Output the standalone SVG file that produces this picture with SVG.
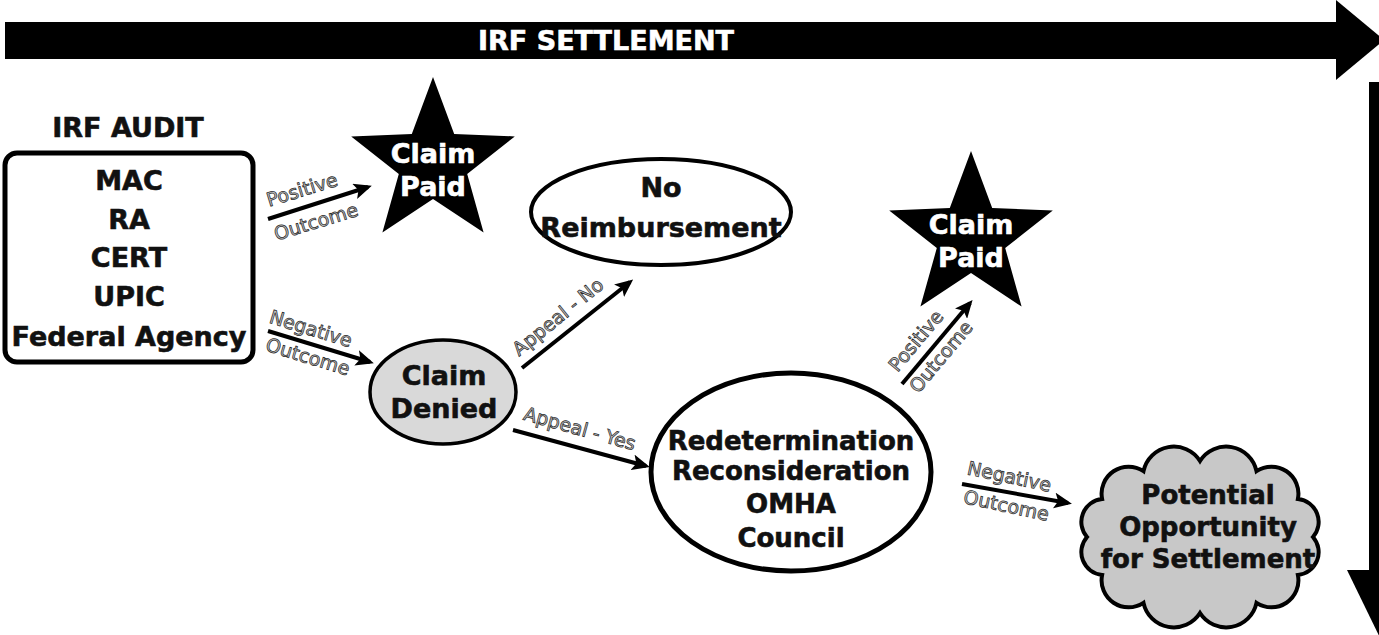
<svg xmlns="http://www.w3.org/2000/svg" width="1379" height="635" viewBox="0 0 1379 635">
<defs>
<style>
.t{font-family:"DejaVu Sans","Liberation Sans",sans-serif;font-weight:bold;font-size:27px;text-anchor:middle;fill:#111;stroke:#111;stroke-width:0.6}
.w{fill:#fff;stroke:#fff}
.s26{font-size:26px}
.lbl{font-family:"DejaVu Sans","Liberation Sans",sans-serif;font-size:19px;text-anchor:middle;fill:#c4c4c4;stroke:#2a2a2a;stroke-width:0.75}
.con{stroke:#000;stroke-width:4;fill:none;marker-end:url(#ah)}
</style>
<marker id="ah" markerUnits="userSpaceOnUse" markerWidth="18" markerHeight="16" refX="14" refY="8" orient="auto">
<path d="M0,0 L18,8 L0,16 L4,8 Z" fill="#000"/>
</marker>
<path id="star" d="M0,-86 L21.2,-29.1 L81.8,-26.6 L34.2,11.1 L50.6,69.6 L0,36 L-50.6,69.6 L-34.2,11.1 L-81.8,-26.6 L-21.2,-29.1 Z"/>
</defs>
<rect width="1379" height="635" fill="#fff"/>

<g id="settlement-bar">
<rect x="5" y="22" width="1335" height="37" fill="#000"/>
<polygon points="1336,0 1384,40 1336,80" fill="#000"/>
<text class="t w" x="606" y="50">IRF SETTLEMENT</text>
</g>

<g id="vertical-bar">
<rect x="1369" y="82" width="30" height="490" fill="#000"/>
<polygon points="1347,570 1423,570 1385,648" fill="#000"/>
</g>

<g id="connectors">
<line class="con" x1="268" y1="219" x2="368" y2="187"/>
<line class="con" x1="268" y1="331" x2="370" y2="362"/>
<line class="con" x1="522" y1="368" x2="630" y2="282"/>
<line class="con" x1="513" y1="430" x2="646" y2="466"/>
<line class="con" x1="902" y1="384" x2="970" y2="303"/>
<line class="con" x1="962" y1="484" x2="1068" y2="503"/>
<text class="lbl" transform="translate(304,196) rotate(-17)">Positive</text>
<text class="lbl" transform="translate(318,228) rotate(-17)">Outcome</text>
<text class="lbl" transform="translate(309,335) rotate(17)">Negative</text>
<text class="lbl" transform="translate(306,363) rotate(17)">Outcome</text>
<text class="lbl" transform="translate(562,322) rotate(-39)">Appeal - No</text>
<text class="lbl" transform="translate(578,435) rotate(15.5)">Appeal - Yes</text>
<text class="lbl" transform="translate(921,345) rotate(-50)">Positive</text>
<text class="lbl" transform="translate(946,361) rotate(-50)">Outcome</text>
<text class="lbl" transform="translate(1008,483) rotate(12)">Negative</text>
<text class="lbl" transform="translate(1005,512) rotate(12)">Outcome</text>
</g>

<g id="irf-audit">
<text class="t" x="128" y="137">IRF AUDIT</text>
<rect x="5" y="153" width="248" height="209" rx="12" fill="#fff" stroke="#000" stroke-width="5"/>
<text class="t" x="129" y="190">MAC</text>
<text class="t" x="129" y="229">RA</text>
<text class="t" x="129" y="267">CERT</text>
<text class="t" x="129" y="306">UPIC</text>
<text class="t" x="129" y="346">Federal Agency</text>
</g>

<g id="claim-paid-1">
<use href="#star" transform="translate(433,163)" fill="#000"/>
<text class="t w" x="433" y="163">Claim</text>
<text class="t w" x="433" y="196">Paid</text>
</g>

<g id="no-reimbursement">
<ellipse cx="661" cy="212" rx="130" ry="53" fill="#fff" stroke="#000" stroke-width="4"/>
<text class="t" x="661" y="197">No</text>
<text class="t" x="661" y="237">Reimbursement</text>
</g>

<g id="claim-denied">
<ellipse cx="443" cy="392" rx="73" ry="52" fill="#d9d9d9" stroke="#000" stroke-width="3.5"/>
<text class="t" x="444" y="385">Claim</text>
<text class="t" x="444" y="418">Denied</text>
</g>

<g id="claim-paid-2">
<use href="#star" transform="translate(971,237)" fill="#000"/>
<text class="t w" x="971" y="234">Claim</text>
<text class="t w" x="971" y="267">Paid</text>
</g>

<g id="appeal-levels">
<ellipse cx="791" cy="472" rx="140" ry="99" fill="#fff" stroke="#000" stroke-width="5"/>
<text class="t s26" x="791" y="450">Redetermination</text>
<text class="t s26" x="791" y="480">Reconsideration</text>
<text class="t s26" x="791" y="513">OMHA</text>
<text class="t s26" x="791" y="547">Council</text>
</g>

<g id="settlement-opportunity">
<path d="M1313,537 A23,23 0 0 1 1297.9,575 A27,27 0 0 1 1256.5,602.8 A31,31 0 0 1 1200,613 A31,31 0 0 1 1143.5,602.8 A27,27 0 0 1 1102.1,575 A23,23 0 0 1 1087,537 A23,23 0 0 1 1102.1,499 A27,27 0 0 1 1143.5,471.2 A31,31 0 0 1 1200,461 A31,31 0 0 1 1256.5,471.2 A27,27 0 0 1 1297.9,499 A23,23 0 0 1 1313,537 Z" fill="#c8c8c8" stroke="#000" stroke-width="4"/>
<text class="t s26" x="1208" y="504">Potential</text>
<text class="t s26" x="1208" y="536">Opportunity</text>
<text class="t s26" x="1208" y="568">for Settlement</text>
</g>
</svg>
